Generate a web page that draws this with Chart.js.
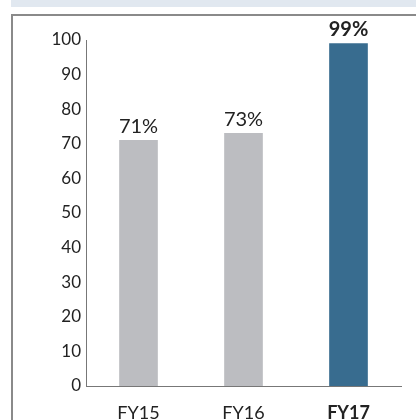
<!DOCTYPE html>
<html>
<head>
<meta charset="utf-8">
<script src="https://cdn.jsdelivr.net/npm/chart.js@4.4.0/dist/chart.umd.min.js"></script>
<style>
  html, body { margin: 0; padding: 0; background: #fff; }
  body { width: 416px; height: 420px; position: relative; overflow: hidden; }
  .band { position: absolute; left: 11px; top: 0; width: 405px; height: 7px; background: #e1e8f0; }
  .box { position: absolute; left: 11px; top: 14px; width: 420px; height: 420px;
         border-left: 2px solid #8a8a8a; border-top: 2px solid #8a8a8a; }
  #wrap { position: absolute; left: 0; top: 0; width: 416px; height: 420px; }
</style>
</head>
<body>
<div class="band"></div>
<div class="box"></div>
<div id="wrap"><canvas id="chart" width="416" height="420"></canvas></div>
<script>
// data
const categories = ['FY15', 'FY16', 'FY17'];
const values = [71, 73, 99];
const valueLabels = ['71%', '73%', '99%'];
const yTicks = [0, 10, 20, 30, 40, 50, 60, 70, 80, 90, 100];
const barColors = ['#bcbdc1', '#bcbdc1', '#386c8f'];

const FONT = 'Lato, "Open Sans", sans-serif';

// draws the % labels above each bar
const valueLabelPlugin = {
    id: 'valueLabels',
    afterDatasetsDraw(chart) {
        const ctx = chart.ctx;
        const meta = chart.getDatasetMeta(0);
        ctx.save();
        ctx.textAlign = 'center';
        ctx.textBaseline = 'alphabetic';
        ctx.fillStyle = '#222';
        meta.data.forEach(function (bar, i) {
            const bold = i === 2;
            ctx.font = (bold ? 'bold ' : '') + '20px ' + FONT;
            ctx.fillText(valueLabels[i], bar.x, bar.y - 7);
        });
        ctx.restore();
    }
};

new Chart(document.getElementById('chart'), {
    type: 'bar',
    data: {
        labels: categories,
        datasets: [{
            data: values,
            backgroundColor: barColors,
            borderWidth: 0,
            barThickness: 38
        }]
    },
    options: {
        responsive: false,
        animation: false,
        devicePixelRatio: 1,
        layout: { padding: { top: 40, right: 15, left: 0, bottom: 0 } },
        plugins: {
            legend: { display: false },
            tooltip: { enabled: false }
        },
        scales: {
            x: {
                grid: { display: false, drawTicks: false },
                border: { color: '#777', width: 1 },
                ticks: {
                    color: '#222',
                    padding: 16,
                    font: function (c) {
                        return { family: FONT, size: 18, weight: c.index === 2 ? 'bold' : 'normal' };
                    }
                },
                afterFit: function (scale) { scale.height = 34; }
            },
            y: {
                min: 0,
                max: 100,
                grid: { display: false, drawTicks: false },
                border: { color: '#777', width: 1 },
                afterBuildTicks: function (scale) {
                    scale.ticks = yTicks.map(function (v) { return { value: v }; });
                },
                ticks: {
                    color: '#222',
                    padding: 5,
                    font: { family: FONT, size: 17 }
                },
                afterFit: function (scale) { scale.width = 86; }
            }
        }
    },
    plugins: [valueLabelPlugin]
});
</script>
</body>
</html>
